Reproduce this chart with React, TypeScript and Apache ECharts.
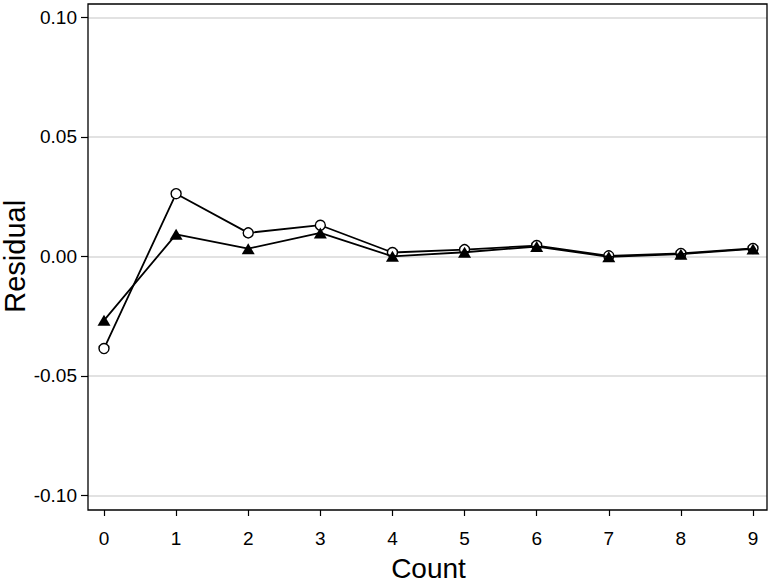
import React, { useEffect, useRef } from "react";
import * as echarts from "echarts";

const counts = [0, 1, 2, 3, 4, 5, 6, 7, 8, 9];
const circleResiduals = [-0.0386, 0.0262, 0.0098, 0.013, 0.0016, 0.0028, 0.0045, 0.0002, 0.0012, 0.0033];
const triangleResiduals = [-0.0268, 0.0092, 0.0032, 0.0098, 0.0, 0.0017, 0.0041, -0.0002, 0.0009, 0.0031];
const yTickValues = [-0.1, -0.05, 0, 0.05, 0.1];

const FONT = "'Liberation Sans', Arial, Helvetica, sans-serif";

export default function App() {
  const ref = useRef<HTMLDivElement>(null);
  useEffect(() => {
    if (!ref.current) return;
    const chart = echarts.init(ref.current, null, { renderer: "svg" });
    const circleData = counts.map((c, i) => [c, circleResiduals[i]]);
    const triData = counts.map((c, i) => [c, triangleResiduals[i]]);
    chart.setOption({
      animation: false,
      backgroundColor: "#fff",
      textStyle: { fontFamily: FONT },
      grid: [
        { left: 88, right: 8, top: 17.3, bottom: 86.7, containLabel: false, outerBoundsMode: "none" },
        { left: 104, right: 22, top: 17.3, bottom: 86.7, containLabel: false, outerBoundsMode: "none" },
      ],
      xAxis: [
        { gridIndex: 0, type: "value", min: 0, max: 1, show: false, axisLine: { onZero: false } },
        {
          gridIndex: 1,
          type: "value",
          min: 0,
          max: 9,
          interval: 1,
          position: "bottom",
          offset: 14.7,
          axisLine: { show: false, onZero: false },
          axisTick: { show: true, length: 6, lineStyle: { color: "#000", width: 1.2 } },
          axisLabel: { fontSize: 19, color: "#000", margin: 19, fontFamily: FONT },
          splitLine: { show: false },
          name: "Count",
          nameLocation: "middle",
          nameGap: 44,
          nameMoveOverlap: false,
          nameTextStyle: { fontSize: 28, color: "#000", fontFamily: FONT },
        },
      ],
      yAxis: [
        {
          gridIndex: 0,
          type: "value",
          min: -0.1,
          max: 0.1,
          interval: 0.05,
          position: "left",
          axisLine: { show: false, onZero: false },
          axisTick: { show: true, length: 7, lineStyle: { color: "#000", width: 1.2 } },
          axisLabel: {
            fontSize: 19,
            color: "#000",
            margin: 11,
            fontFamily: FONT,
            formatter: (v: number) => {
              const match = yTickValues.find((t) => Math.abs(t - v) < 1e-9);
              return (match !== undefined ? match : v).toFixed(2);
            },
          },
          splitLine: { show: true, lineStyle: { color: "#d9d9d9", width: 1.5 } },
          name: "Residual",
          nameLocation: "middle",
          nameGap: 59,
          nameMoveOverlap: false,
          nameTextStyle: { fontSize: 29, color: "#000", fontFamily: FONT },
        },
        { gridIndex: 1, type: "value", min: -0.1, max: 0.1, show: false, axisLine: { onZero: false } },
      ],
      graphic: [
        {
          type: "rect",
          shape: { x: 88, y: 4, width: 679, height: 506 },
          style: { fill: "none", stroke: "#000", lineWidth: 1.3 },
          z: 100,
          silent: true,
        },
      ],
      series: [
        {
          type: "line",
          xAxisIndex: 1,
          yAxisIndex: 1,
          data: circleData,
          symbol: "circle",
          symbolSize: 10,
          lineStyle: { color: "#000", width: 1.8 },
          itemStyle: { color: "#fff", borderColor: "#000", borderWidth: 1.4 },
          z: 3,
        },
        {
          type: "line",
          xAxisIndex: 1,
          yAxisIndex: 1,
          data: triData,
          symbol: "triangle",
          symbolSize: [13, 11],
          lineStyle: { color: "#000", width: 1.8 },
          itemStyle: { color: "#000", borderColor: "#000", borderWidth: 0 },
          z: 4,
        },
      ],
    });
    return () => chart.dispose();
  }, []);
  return (
    <div
      ref={ref}
      style={{ position: "fixed", left: 0, top: 0, width: 775, height: 582, background: "#fff" }}
    />
  );
}
